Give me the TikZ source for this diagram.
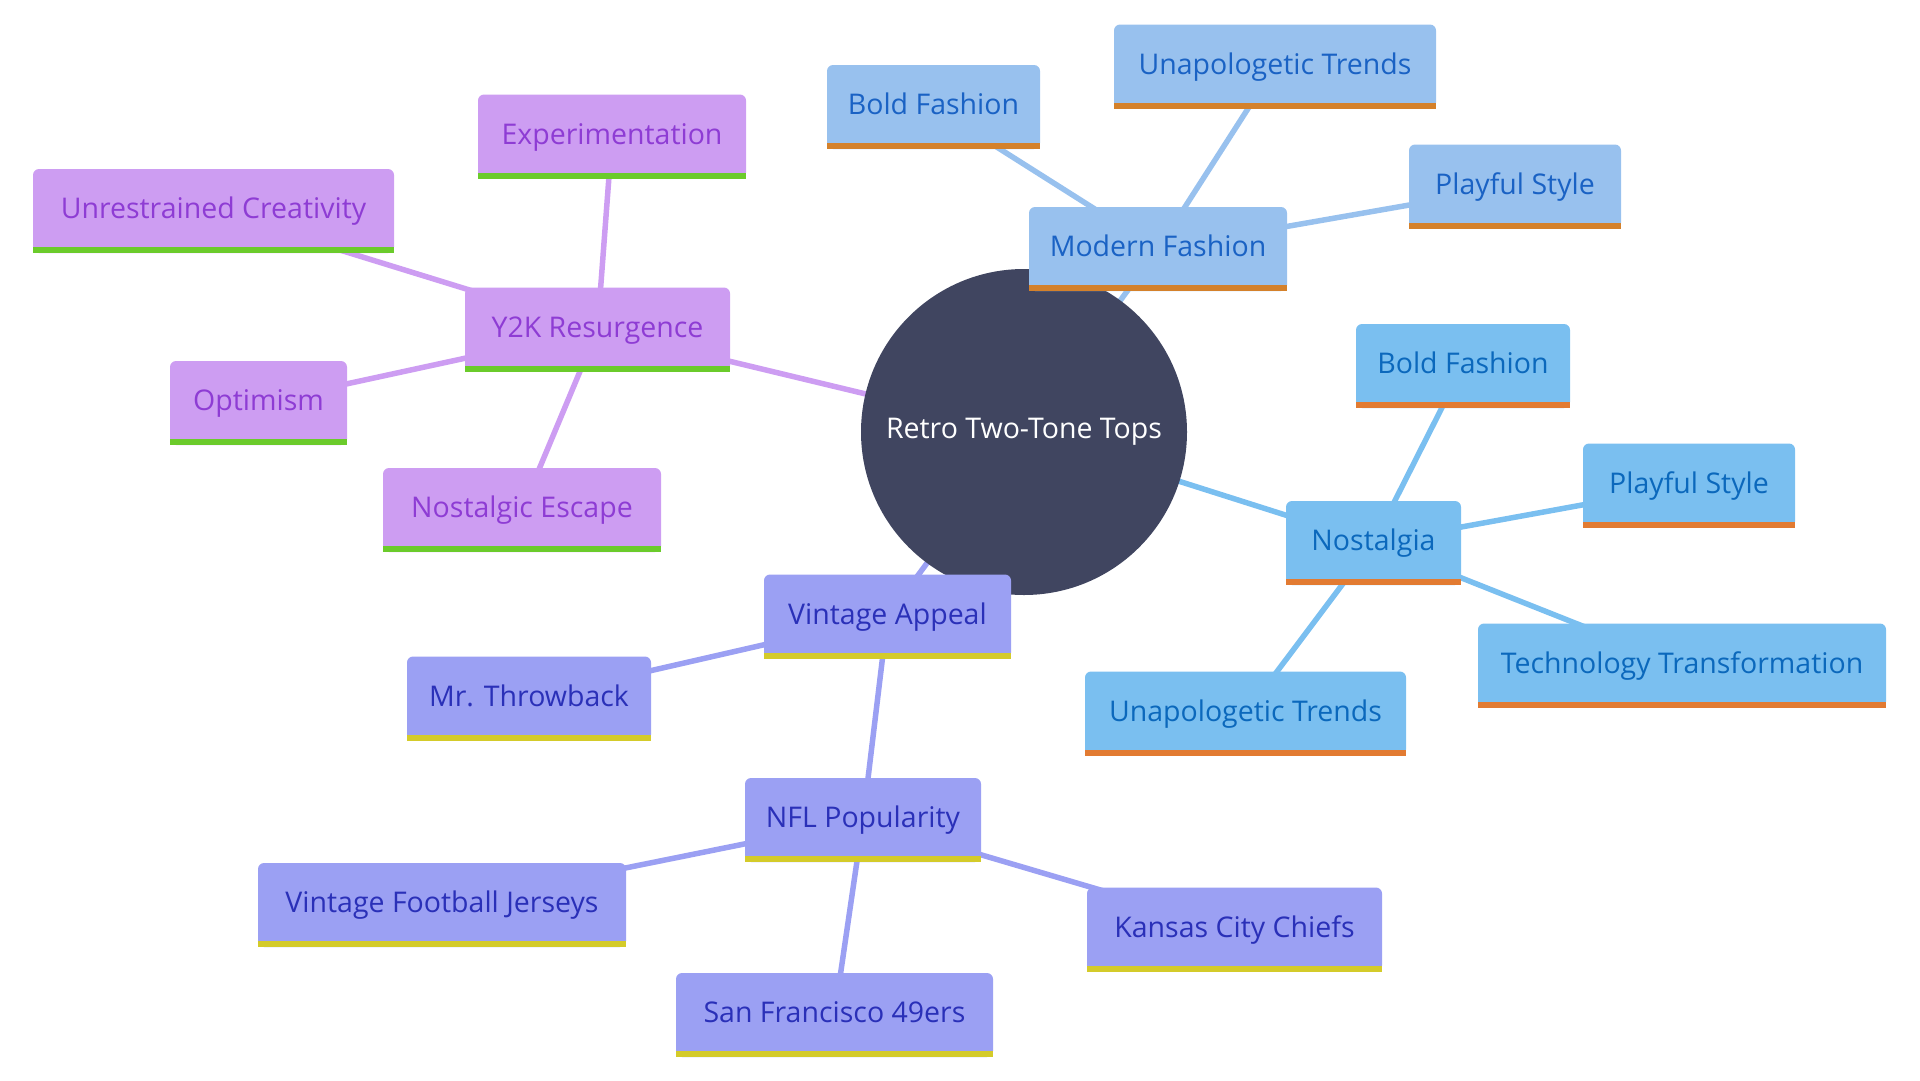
\documentclass[tikz,border=0pt]{standalone}
\usepackage{fontspec}
\setmainfont{Open Sans}
\usetikzlibrary{backgrounds}
\definecolor{mfFill}{HTML}{98C1EE}
\definecolor{mfText}{HTML}{1A62C4}
\definecolor{mfBar}{HTML}{D4812B}
\definecolor{noFill}{HTML}{7ABFF0}
\definecolor{noText}{HTML}{0B68BC}
\definecolor{noBar}{HTML}{E27B32}
\definecolor{ykFill}{HTML}{CD9DF2}
\definecolor{ykText}{HTML}{8E3CD4}
\definecolor{ykBar}{HTML}{6BCB2B}
\definecolor{vaFill}{HTML}{9BA0F3}
\definecolor{vaText}{HTML}{2A30B8}
\definecolor{vaBar}{HTML}{D4CB2A}
\definecolor{hubFill}{HTML}{404560}
\tikzset{
  box/.style={rectangle, rounded corners=6pt, minimum height=84pt, inner sep=0pt,
    text height=20pt, text depth=5pt,
    font=\fontsize{28.5}{32}\selectfont},
  mf/.style={box, fill=mfFill, text=mfText, minimum width=#1},
  no/.style={box, fill=noFill, text=noText, minimum width=#1},
  yk/.style={box, fill=ykFill, text=ykText, minimum width=#1},
  va/.style={box, fill=vaFill, text=vaText, minimum width=#1},
  hub/.style={circle, fill=hubFill, text=white, minimum size=326pt, inner sep=0pt,
    font=\fontsize{28.5}{32}\selectfont},
  link/.style={line width=5.5pt},
}
\newcommand\boxbar[2]{\fill[#2] ([yshift=6pt]#1.south west) rectangle (#1.south east);}
\begin{document}
\begin{tikzpicture}[x=1pt,y=-1pt]
\useasboundingbox (0,0) rectangle (1920,1080);
% hub
\node[hub] (hub) at (1024,432) {Retro Two-Tone Tops};
% Modern Fashion branch
\node[mf=258pt] (mf) at (1158,249) {Modern Fashion};
\node[mf=213pt] (mfbold) at (933.5,107) {Bold Fashion};
\node[mf=322pt] (mfunap) at (1275,66.5) {Unapologetic Trends};
\node[mf=212pt] (mfplay) at (1515,186.5) {Playful Style};
% Nostalgia branch
\node[no=175pt] (no) at (1373.5,543) {Nostalgia};
\node[no=214pt] (nobold) at (1463,366) {Bold Fashion};
\node[no=212pt] (noplay) at (1689,485.5) {Playful Style};
\node[no=408pt] (notech) at (1682,665.5) {Technology Transformation};
\node[no=321pt] (nounap) at (1245.5,713.5) {Unapologetic Trends};
% Y2K branch
\node[yk=265pt] (yk) at (597.5,329.5) {Y2K Resurgence};
\node[yk=268pt] (ykexp) at (612,136.5) {Experimentation};
\node[yk=361pt] (ykunr) at (213.5,211) {Unrestrained Creativity};
\node[yk=177pt] (ykopt) at (258.5,403) {Optimism};
\node[yk=278pt] (ykesc) at (522,510) {Nostalgic Escape};
% Vintage branch
\node[va=247pt] (va) at (887.5,616.5) {Vintage Appeal};
\node[va=244pt] (vamr) at (529,698.5) {Mr. Throwback};
\node[va=236pt] (vanfl) at (863,820) {NFL Popularity};
\node[va=368pt] (vavfj) at (442,905) {Vintage Football Jerseys};
\node[va=317pt] (vasf) at (834.5,1015) {San Francisco 49ers};
\node[va=295pt] (vakc) at (1234.5,929.5) {Kansas City Chiefs};
% bottom bars
\foreach \n in {mf,mfbold,mfunap,mfplay}{\boxbar{\n}{mfBar}}
\foreach \n in {no,nobold,noplay,notech,nounap}{\boxbar{\n}{noBar}}
\foreach \n in {yk,ykexp,ykunr,ykopt,ykesc}{\boxbar{\n}{ykBar}}
\foreach \n in {va,vamr,vanfl,vavfj,vasf,vakc}{\boxbar{\n}{vaBar}}
% connectors
\begin{scope}[on background layer]
\draw[link, mfFill] (hub.center) -- (mf.center);
\foreach \n in {mfbold,mfunap,mfplay}{\draw[link, mfFill] (mf.center) -- (\n.center);}
\draw[link, noFill] (hub.center) -- (no.center);
\foreach \n in {nobold,noplay,notech,nounap}{\draw[link, noFill] (no.center) -- (\n.center);}
\draw[link, ykFill] (hub.center) -- (yk.center);
\foreach \n in {ykexp,ykunr,ykopt,ykesc}{\draw[link, ykFill] (yk.center) -- (\n.center);}
\draw[link, vaFill] (hub.center) -- (va.center);
\draw[link, vaFill] (va.center) -- (vamr.center);
\draw[link, vaFill] (va.center) -- (vanfl.center);
\foreach \n in {vavfj,vasf,vakc}{\draw[link, vaFill] (vanfl.center) -- (\n.center);}
\end{scope}
\end{tikzpicture}
\end{document}
